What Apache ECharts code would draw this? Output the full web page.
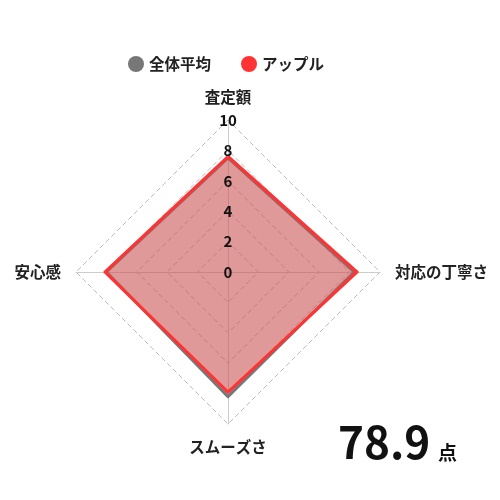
<!DOCTYPE html>
<html lang="ja">
<head>
  <meta charset="UTF-8">
  <title>評価レーダー</title>
  <style>
    body { margin: 0; padding: 0; background: #fff; }
    #chart { width: 500px; height: 500px; }
  </style>
</head>
<body>
  <div id="chart"></div>
  <script src="https://cdn.jsdelivr.net/npm/echarts@6/dist/echarts.min.js"></script>
  <script>
    // radar runs counter-clockwise: top, left, bottom, right
    var indicators = ['査定額', '安心感', 'スムーズさ', '対応の丁寧さ'];
    var avgValues = [7.5, 8.0, 8.2, 8.3];
    var appleValues = [7.6, 8.1, 7.9, 8.5];
    var seriesNames = ['全体平均', 'アップル'];
    var totalScore = '78.9';
    var maxValue = 10;

    var font = '"Noto Sans CJK JP", "Noto Sans", sans-serif';
    var center = [228, 272];
    var radius = 152;

    var chart = echarts.init(document.getElementById('chart'));

    var option = {
      textStyle: { fontFamily: font },
      legend: {
        top: 51,
        left: 123,
        icon: 'circle',
        itemWidth: 16,
        itemHeight: 16,
        itemGap: 30,
        data: seriesNames,
        textStyle: { fontFamily: font, fontSize: 15.5, fontWeight: 'bold', color: '#222' }
      },
      radar: {
        center: center,
        radius: radius,
        startAngle: 90,
        shape: 'polygon',
        splitNumber: 5,
        indicator: indicators.map(function (n) { return { name: n, max: maxValue, min: 0 }; }),
        axisName: { color: '#222', fontSize: 15.5, fontWeight: 'bold', fontFamily: font },
        nameGap: 15,
        axisLine: { lineStyle: { color: '#cccccc', width: 1 } },
        splitLine: { lineStyle: { color: '#bbbbbb', type: [5, 3], width: 1 } },
        splitArea: { show: false },
        axisLabel: { show: false }
      },
      polar: { center: center, radius: radius },
      angleAxis: { show: false, startAngle: 90, min: 0, max: 360 },
      radiusAxis: {
        min: 0,
        max: maxValue,
        interval: 2,
        axisLine: { show: false },
        axisTick: { show: false },
        splitLine: { show: false },
        axisLabel: {
          show: true,
          margin: 0,
          align: 'center',
          verticalAlign: 'middle',
          fontSize: 15,
          fontWeight: 'bold',
          color: '#111',
          fontFamily: font
        },
        z: 10
      },
      series: [{
        type: 'radar',
        symbol: 'none',
        data: [
          {
            name: seriesNames[0],
            value: avgValues,
            itemStyle: { color: '#777777' },
            lineStyle: { color: '#777777', width: 3 },
            areaStyle: { color: '#777777', opacity: 0.35 }
          },
          {
            name: seriesNames[1],
            value: appleValues,
            itemStyle: { color: '#ff3333' },
            lineStyle: { color: '#ff3333', width: 3 },
            areaStyle: { color: '#ff3333', opacity: 0.35 }
          }
        ]
      }],
      graphic: [
        {
          type: 'text',
          left: 338,
          top: 420,
          style: { text: totalScore, fontSize: 44, fontWeight: 'bold', fill: '#111', fontFamily: font }
        },
        {
          type: 'text',
          left: 438,
          top: 443,
          style: { text: '点', fontSize: 19, fontWeight: 'bold', fill: '#111', fontFamily: font }
        }
      ]
    };

    chart.setOption(option);
  </script>
</body>
</html>
